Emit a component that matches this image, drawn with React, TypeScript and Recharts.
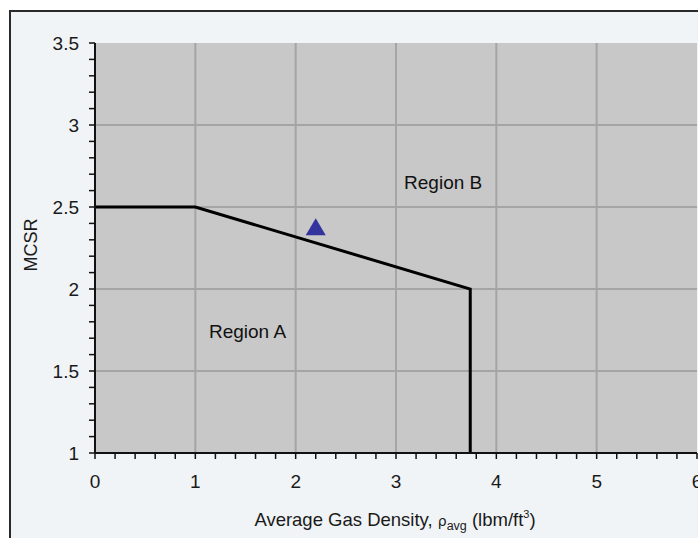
import React from 'react';
import { ComposedChart, Line, Scatter, XAxis, YAxis, ReferenceLine, ReferenceArea, ReferenceDot } from 'recharts';

const xTicks = [0, 0.2, 0.4, 0.6, 0.8, 1, 1.2, 1.4, 1.6, 1.8, 2, 2.2, 2.4, 2.6, 2.8, 3, 3.2, 3.4, 3.6, 3.8, 4, 4.2, 4.4, 4.6, 4.8, 5, 5.2, 5.4, 5.6, 5.8, 6];
const yTicks = [1, 1.1, 1.2, 1.3, 1.4, 1.5, 1.6, 1.7, 1.8, 1.9, 2, 2.1, 2.2, 2.3, 2.4, 2.5, 2.6, 2.7, 2.8, 2.9, 3, 3.1, 3.2, 3.3, 3.4, 3.5];
const xLabeled = [0, 1, 2, 3, 4, 5, 6];
const yLabeled = [1, 1.5, 2, 2.5, 3, 3.5];
const xGrid = [1, 2, 3, 4, 5];
const yGrid = [1.5, 2, 2.5, 3];

const boundary = [
  { x: 0, y: 2.5 },
  { x: 1, y: 2.5 },
  { x: 3.74, y: 2.0 },
  { x: 3.74, y: 1.0 },
];
const measured = [{ x: 2.2, y: 2.37 }];
const regions = [
  { x: 3.47, y: 2.65, name: 'Region B' },
  { x: 1.52, y: 1.745, name: 'Region A' },
];

const font = 'Arial, "Liberation Sans", sans-serif';

const XTick = (props: any) => {
  const { x, y, payload } = props;
  const v = Math.round(payload.value * 10) / 10;
  if (!xLabeled.some((t) => Math.abs(t - v) < 1e-6)) return <g />;
  return (
    <text x={x} y={y} dy={21} textAnchor="middle" fill="#1a1a1a" fontSize={19} fontFamily={font}>
      {String(v)}
    </text>
  );
};

const YTick = (props: any) => {
  const { x, y, payload } = props;
  const v = Math.round(payload.value * 10) / 10;
  if (!yLabeled.some((t) => Math.abs(t - v) < 1e-6)) return <g />;
  return (
    <text x={x} y={y} dy={7} textAnchor="end" fill="#1a1a1a" fontSize={19} fontFamily={font}>
      {String(v)}
    </text>
  );
};

const Triangle = (props: any) => {
  const { cx, cy } = props;
  return <polygon points={`${cx},${cy - 10} ${cx + 10},${cy + 7} ${cx - 10},${cy + 7}`} fill="#33339e" />;
};

const XTitle = (props: any) => {
  const { viewBox } = props;
  const cx = viewBox.x + 300;
  return (
    <text x={cx} y={526} textAnchor="middle" fill="#1a1a1a" fontSize={18.5} fontFamily={font}>
      Average Gas Density,{' '}
      <tspan fontSize={14} fontFamily="'DejaVu Sans', sans-serif">ρ</tspan>
      <tspan fontSize={12.5} dy={4}>avg</tspan>
      <tspan dy={-4}> (lbm/ft</tspan>
      <tspan fontSize={11} dy={-8}>3</tspan>
      <tspan dy={8}>)</tspan>
    </text>
  );
};

const YTitle = () => (
  <text x={0} y={0} transform="translate(37,245) rotate(-90)" textAnchor="middle" fill="#1a1a1a" fontSize={18} fontFamily={font}>
    MCSR
  </text>
);

export default function App() {
  return (
    <div style={{ position: 'absolute', left: 0, top: 0, width: 698, height: 538, overflow: 'hidden', background: '#fff' }}>
      <div
        style={{
          position: 'absolute',
          left: 9,
          top: 10,
          width: 720,
          height: 560,
          borderTop: '2px solid #2a2a2a',
          borderLeft: '2px solid #2a2a2a',
          background: '#f1f4f7',
        }}
      />
      <div style={{ position: 'absolute', left: 0, top: 0 }}>
        <ComposedChart width={760} height={538} margin={{ top: 43, right: 63, left: 0, bottom: 0 }}>
          <XAxis
            dataKey="x"
            type="number"
            domain={[0, 6]}
            ticks={xTicks}
            interval={0}
            allowDataOverflow
            tick={<XTick />}
            tickSize={6}
            tickMargin={8}
            height={85}
            axisLine={{ stroke: '#111', strokeWidth: 2 }}
            tickLine={{ stroke: '#111', strokeWidth: 1.5 }}
            label={<XTitle />}
          />
          <YAxis
            dataKey="y"
            type="number"
            domain={[1, 3.5]}
            ticks={yTicks}
            interval={0}
            allowDataOverflow
            tick={<YTick />}
            tickSize={6}
            tickMargin={10}
            width={95}
            axisLine={{ stroke: '#111', strokeWidth: 2 }}
            tickLine={{ stroke: '#111', strokeWidth: 1.5 }}
            label={<YTitle />}
          />
          <ReferenceArea x1={0} x2={6} y1={1} y2={3.5} fill="#c8c8c8" fillOpacity={1} stroke="none" />
          {xGrid.map((v) => (
            <ReferenceLine key={'x' + v} x={v} stroke="#a6a4a4" strokeWidth={2} />
          ))}
          {yGrid.map((v) => (
            <ReferenceLine key={'y' + v} y={v} stroke="#a6a4a4" strokeWidth={2} />
          ))}
          <Line
            data={boundary}
            dataKey="y"
            type="linear"
            stroke="#000"
            strokeWidth={3}
            dot={false}
            activeDot={false}
            isAnimationActive={false}
          />
          <Scatter data={measured} dataKey="y" shape={<Triangle />} isAnimationActive={false} />
          {regions.map((r) => (
            <ReferenceDot
              key={r.name}
              x={r.x}
              y={r.y}
              r={0}
              stroke="none"
              fill="none"
              label={{ value: r.name, position: 'center', fill: '#111', fontSize: 19, fontFamily: font }}
            />
          ))}
        </ComposedChart>
      </div>
    </div>
  );
}
